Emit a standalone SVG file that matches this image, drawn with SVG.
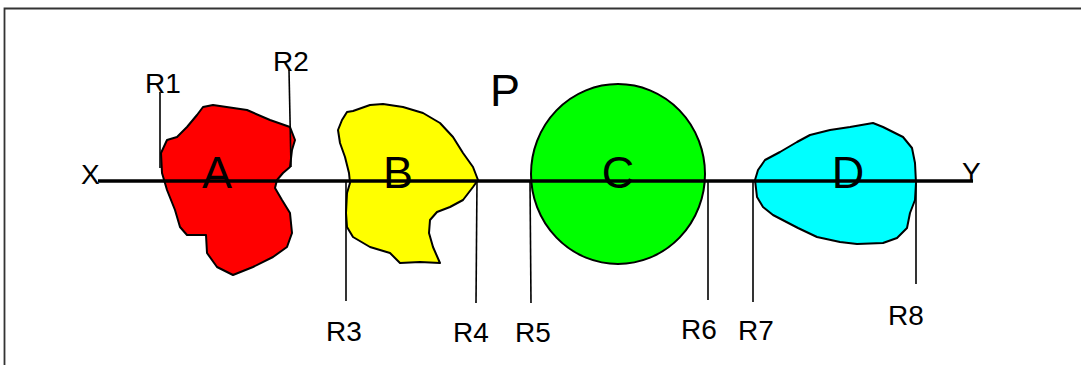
<svg xmlns="http://www.w3.org/2000/svg" width="1081" height="365" viewBox="0 0 1081 365">
<style>
.blob{stroke:#000;stroke-width:2;stroke-linejoin:round}
.ref{stroke:#000;stroke-width:1.6;fill:none}
.lbl{font-family:"Liberation Sans","Open Sans",sans-serif;font-size:28px;fill:#000}
.big{font-family:"Liberation Sans","Open Sans",sans-serif;font-size:45px;fill:#000;text-anchor:middle}
</style>
<rect width="1081" height="365" fill="#fff"/>
<path d="M4.5 365 V8.5 H1081" fill="none" stroke="#333" stroke-width="1.8"/>
<g id="nodeA">
<path class="blob" fill="#ff0000" d="M203 107 L213 105 L247 110 L270 120 L290 127 L295 140 L292 150 L290 167 L283 173 L277 180 L275 188 L282 200 L290 213 L292 233 L287 247 L273 257 L253 267 L233 275 L217 267 L207 253 L206 235 L187 235 L180 227 L175 210 L167 190 L162 173 L161 153 L167 140 L177 137 L187 127 L197 115 Z"/>
</g>
<g id="nodeB">
<path class="blob" fill="#ffff00" d="M347 112 L353 111 L370 105 L383 104 L403 107 L423 113 L440 123 L453 137 L463 153 L473 167 L478 180 L473 187 L463 200 L450 207 L437 212 L430 220 L429 233 L433 247 L440 263 L420 262 L400 263 L390 253 L370 247 L353 237 L347 227 L346 213 L347 193 L350 183 L349 173 L345 157 L340 143 L338 130 L342 120 Z"/>
</g>
<g id="nodeC">
<ellipse class="blob" fill="#00ff00" cx="618" cy="174" rx="87" ry="90"/>
</g>
<g id="nodeD">
<path class="blob" fill="#00ffff" d="M755 180 L758 170 L765 160 L780 152 L797 142 L810 135 L830 130 L850 127 L873 123 L883 127 L903 137 L912 148 L915 163 L916 183 L915 200 L910 213 L907 228 L897 238 L883 243 L857 244 L840 242 L817 237 L798 228 L773 215 L763 207 L757 197 Z"/>
</g>
<g id="connectors">
<line x1="98" y1="181" x2="973" y2="181" stroke="#000" stroke-width="3.5"/>
<line class="ref" x1="160" y1="92" x2="160" y2="168"/>
<line class="ref" x1="289" y1="70" x2="291" y2="167"/>
<line class="ref" x1="346" y1="181" x2="346" y2="301"/>
<line class="ref" x1="477" y1="181" x2="476" y2="303"/>
<line class="ref" x1="530" y1="181" x2="531" y2="303"/>
<line class="ref" x1="708" y1="181" x2="708" y2="300"/>
<line class="ref" x1="753" y1="181" x2="753" y2="302"/>
<line class="ref" x1="916" y1="181" x2="916" y2="284"/>
</g>
<g id="labels">
<text class="big" x="217" y="188">A</text>
<text class="big" x="398" y="188">B</text>
<text class="big" x="618" y="188">C</text>
<text class="big" x="848" y="188">D</text>
<text class="big" x="505" y="106">P</text>
<text class="lbl" x="81" y="184">X</text>
<text class="lbl" x="962" y="182">Y</text>
<text class="lbl" x="145" y="93">R1</text>
<text class="lbl" x="273" y="71">R2</text>
<text class="lbl" x="326" y="341">R3</text>
<text class="lbl" x="453" y="342">R4</text>
<text class="lbl" x="515" y="342">R5</text>
<text class="lbl" x="681" y="339">R6</text>
<text class="lbl" x="738" y="340">R7</text>
<text class="lbl" x="888" y="325">R8</text>
</g>
</svg>
